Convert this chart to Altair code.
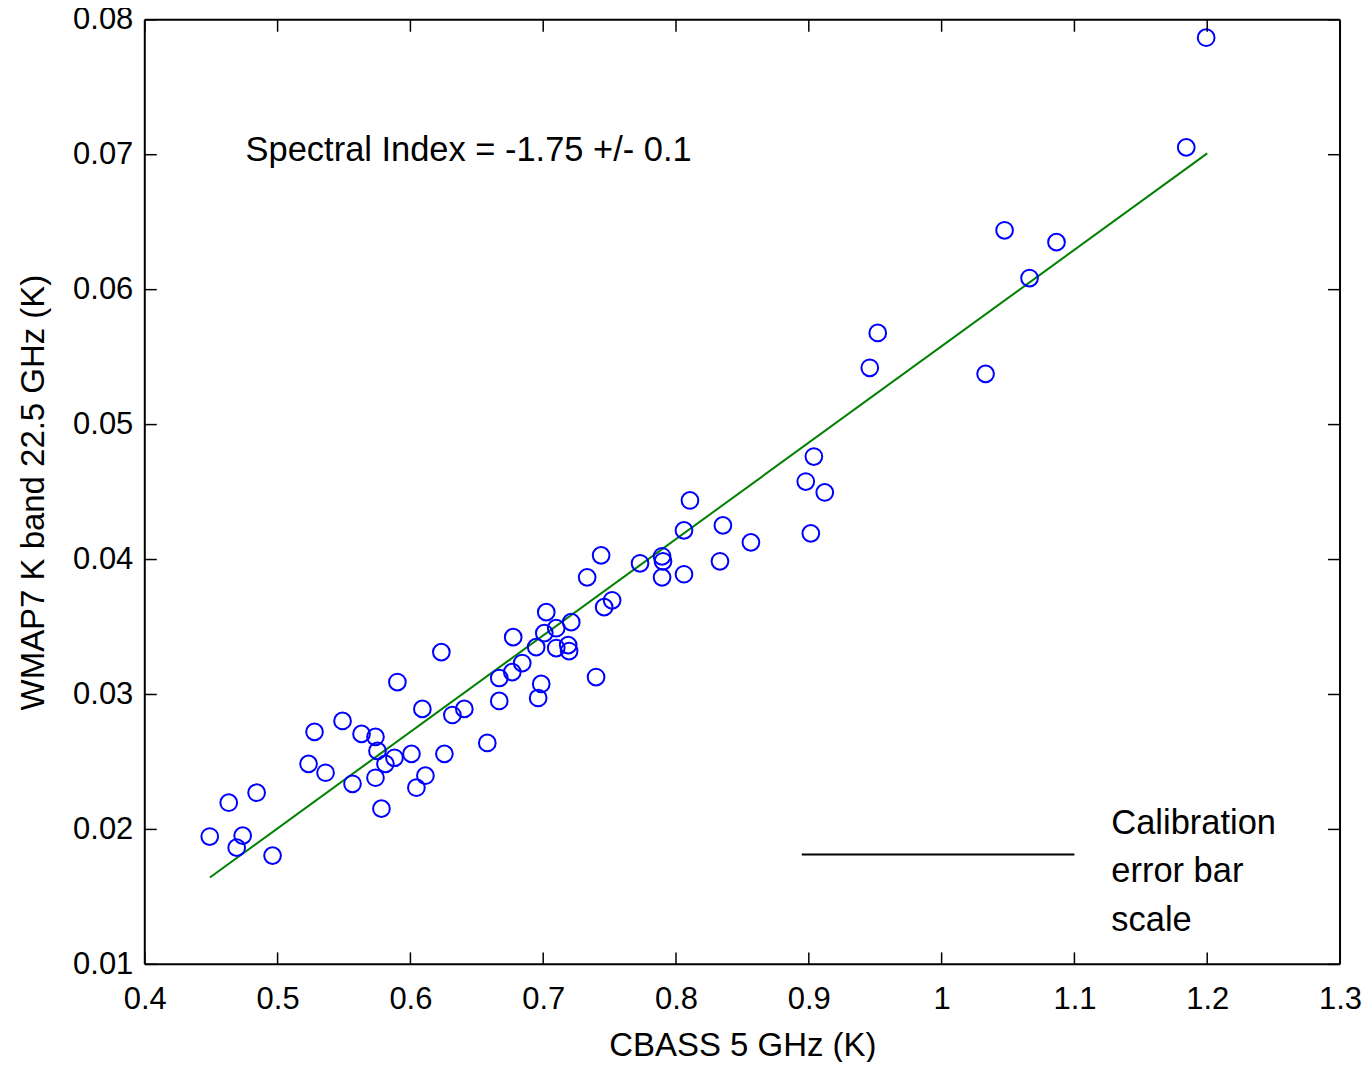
import altair as alt
import pandas as pd

# ---- data ----
cbass = [0.4489, 0.4632, 0.4737, 0.4692, 0.4842, 0.4962, 0.5233, 0.5278, 0.5361, 0.5489,
         0.5564, 0.5632, 0.5737, 0.5752, 0.5737, 0.5782, 0.5812, 0.5880, 0.5902, 0.6008,
         0.6045, 0.6090, 0.6113, 0.6233, 0.6256, 0.6316, 0.6406, 0.6579, 0.6669, 0.6669,
         0.6767, 0.6774, 0.6842, 0.6947, 0.6962, 0.6985, 0.7023, 0.7008, 0.7098, 0.7098,
         0.7188, 0.7195, 0.7211, 0.7331, 0.7398, 0.7436, 0.7459, 0.7519, 0.7729, 0.7895,
         0.7902, 0.7895, 0.8060, 0.8060, 0.8105, 0.8331, 0.8353, 0.8564, 0.8977, 0.9015,
         0.9038, 0.9120, 0.9459, 0.9519, 1.0331, 1.0474, 1.0662, 1.0865, 1.1842, 1.1992]
wmap = [0.01947, 0.02198, 0.01954, 0.01865, 0.02272, 0.01806, 0.02486, 0.02723, 0.02420, 0.02804,
        0.02338, 0.02708, 0.02686, 0.02582, 0.02383, 0.02154, 0.02486, 0.02531, 0.03092, 0.02560,
        0.02309, 0.02893, 0.02398, 0.03314, 0.02560, 0.02848, 0.02893, 0.02641, 0.03122, 0.02952,
        0.03166, 0.03425, 0.03233, 0.03351, 0.02974, 0.03078, 0.03610, 0.03455, 0.03491, 0.03344,
        0.03366, 0.03322, 0.03536, 0.03868, 0.03129, 0.04031, 0.03647, 0.03698, 0.03972, 0.04024,
        0.03987, 0.03868, 0.03891, 0.04216, 0.04438, 0.03987, 0.04253, 0.04127, 0.04578, 0.04194,
        0.04763, 0.04497, 0.05421, 0.05679, 0.05376, 0.06440, 0.06086, 0.06352, 0.07054, 0.07867]

fit_x = [0.449, 1.2]
fit_y = [0.01644, 0.0701]

calib_x = [0.8947, 1.1]
calib_y = [0.01814, 0.01814]

x_ticks = [0.4, 0.5, 0.6, 0.7, 0.8, 0.9, 1.0, 1.1, 1.2, 1.3]
y_ticks = [0.01, 0.02, 0.03, 0.04, 0.05, 0.06, 0.07, 0.08]

annot_text = ["Spectral Index = -1.75 +/- 0.1"]
annot_x = [0.4759]
annot_y = [0.07024]

calib_text = ["Calibration", "error bar", "scale"]
calib_text_x = [1.1278, 1.1278, 1.1278]
calib_text_y = [0.02043, 0.01681, 0.01318]

# ---- layout ----
W, H = 1197, 946
TICK = 12
FONT = "Liberation Sans"

xs = alt.Scale(domain=[0.4, 1.3], nice=False, zero=False)
ys = alt.Scale(domain=[0.01, 0.08], nice=False, zero=False)

xaxis = alt.Axis(values=x_ticks, labelExpr="format(datum.value, '~g')", ticks=False,
                 domain=False, grid=False, labelFlush=False, labelPadding=20,
                 labelFontSize=31, labelFont=FONT, labelColor="black",
                 title="CBASS 5 GHz (K)", titleFontSize=33, titleFont=FONT,
                 titleFontWeight="normal", titleColor="black", titlePadding=15)
yaxis = alt.Axis(values=y_ticks, format=".2f", ticks=False, domain=False, grid=False,
                 labelFlush=False, labelPadding=12, labelFontSize=31, labelFont=FONT,
                 labelColor="black", title="WMAP7 K band 22.5 GHz (K)", titleFontSize=33,
                 titleFont=FONT, titleFontWeight="normal", titleColor="black",
                 titlePadding=22)


def X(f="x"):
    return alt.X(f, type="quantitative", scale=xs, axis=xaxis)


def Y(f="y"):
    return alt.Y(f, type="quantitative", scale=ys, axis=yaxis)


pts = pd.DataFrame({"x": cbass, "y": wmap})
fit = pd.DataFrame({"x": fit_x, "y": fit_y})
cal = pd.DataFrame({"x": calib_x, "y": calib_y})
xt = pd.DataFrame({"x": x_ticks})
yt = pd.DataFrame({"y": y_ticks})
ann = pd.DataFrame({"x": annot_x, "y": annot_y, "t": annot_text})
ctx = pd.DataFrame({"x": calib_text_x, "y": calib_text_y, "t": calib_text})
one = pd.DataFrame({"k": [0]})

points = alt.Chart(pts).mark_point(shape="circle", filled=False, color="#0000ff",
                                   size=280, strokeWidth=2, opacity=1).encode(x=X(), y=Y())
line = alt.Chart(fit).mark_line(color="#008000", strokeWidth=2).encode(x=X(), y=Y())
calib = alt.Chart(cal).mark_line(color="black", strokeWidth=2).encode(x=X(), y=Y())

tb = alt.Chart(xt).mark_rule(color="black", strokeWidth=1.5).encode(
    x=X(), y=alt.value(H - TICK), y2=alt.value(H))
tt = alt.Chart(xt).mark_rule(color="black", strokeWidth=1.5).encode(
    x=X(), y=alt.value(0), y2=alt.value(TICK))
tl = alt.Chart(yt).mark_rule(color="black", strokeWidth=1.5).encode(
    y=Y(), x=alt.value(0), x2=alt.value(TICK))
tr = alt.Chart(yt).mark_rule(color="black", strokeWidth=1.5).encode(
    y=Y(), x=alt.value(W - TICK), x2=alt.value(W))

# plot frame
fb = alt.Chart(one).mark_rule(color="black", strokeWidth=2).encode(
    x=alt.value(0), x2=alt.value(W), y=alt.value(H))
ft = alt.Chart(one).mark_rule(color="black", strokeWidth=2).encode(
    x=alt.value(0), x2=alt.value(W), y=alt.value(0))
fl = alt.Chart(one).mark_rule(color="black", strokeWidth=2).encode(
    y=alt.value(0), y2=alt.value(H), x=alt.value(0))
fr = alt.Chart(one).mark_rule(color="black", strokeWidth=2).encode(
    y=alt.value(0), y2=alt.value(H), x=alt.value(W))

txt1 = alt.Chart(ann).mark_text(align="left", baseline="middle", fontSize=34.5, font=FONT,
                                color="black").encode(x=X(), y=Y(), text="t:N")
txt2 = alt.Chart(ctx).mark_text(align="left", baseline="middle", fontSize=34.5, font=FONT,
                                color="black").encode(x=X(), y=Y(), text="t:N")

chart = alt.layer(line, points, calib, tb, tt, tl, tr, fb, ft, fl, fr, txt1, txt2).properties(
    width=W, height=H,
    autosize=alt.AutoSizeParams(type="none"),
    padding={"left": 137, "top": 11, "right": 22, "bottom": 97},
).configure(background="white").configure_view(stroke=None)

chart.save("out.html", embed_options={"renderer": "svg", "actions": False})
